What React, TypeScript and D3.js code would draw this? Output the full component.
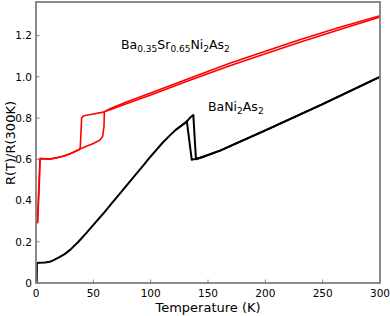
import React from "react";
import { scaleLinear, line } from "d3";

// BaNi2As2 (black), warming and cooling sweeps: [T (K), R(T)/R(300K)]
const baWarm: [number, number][] = [
    [0.6, 0], [0.8, 0.097], [3, 0.098], [8, 0.1], [12, 0.103], [15, 0.11], [20, 0.124],
    [25, 0.14], [30, 0.162], [37, 0.2], [44, 0.243], [51, 0.288], [58.7, 0.337], [66, 0.386],
    [73.3, 0.435], [80, 0.48], [87.8, 0.532], [94, 0.573], [99.4, 0.61], [105, 0.646],
    [110, 0.678], [116.8, 0.716], [122, 0.743], [127, 0.764], [131.4, 0.783], [134, 0.8],
    [137.2, 0.815], [139.5, 0.6], [145, 0.61], [160.5, 0.642], [200, 0.74], [250, 0.868],
    [296, 0.99], [300, 1.0],
];
const baCool: [number, number][] = [
    [300, 1.0], [250, 0.868], [200, 0.74], [160.5, 0.642], [145, 0.612], [139.5, 0.602],
    [135.8, 0.598], [131.6, 0.783], [127, 0.764], [122, 0.743],
];

// Ba0.35Sr0.65Ni2As2 (red)
const srWarm: [number, number][] = [
    [1.2, 0.29], [3.5, 0.605], [8, 0.603], [12, 0.602], [18, 0.607], [24, 0.616], [30, 0.628],
    [35, 0.64], [38.4, 0.65], [44, 0.663], [50, 0.677], [55.8, 0.694], [58.1, 0.71],
    [59.3, 0.76], [59.6, 0.83], [64.5, 0.845], [80, 0.88], [100, 0.922], [130, 0.985],
    [169, 1.066], [200, 1.124], [230, 1.18], [265, 1.24], [300, 1.296],
];
const srCool: [number, number][] = [
    [300, 1.29], [265, 1.23], [230, 1.168], [200, 1.112], [169, 1.054], [130, 0.975],
    [100, 0.912], [80, 0.872], [64.5, 0.84], [58.7, 0.829], [50, 0.82], [44, 0.814],
    [41.3, 0.81], [39.8, 0.8], [38.6, 0.66], [38, 0.648], [30, 0.627], [24, 0.615],
    [12, 0.6], [3.5, 0.603], [3, 0.5], [1.4, 0.29],
];

const xTicks = [0, 50, 100, 150, 200, 250, 300];
const yTicks = [0, 0.2, 0.4, 0.6, 0.8, 1.0, 1.2];
const yTickLabels = ["0", "0.2", "0.4", "0.6", "0.8", "1.0", "1.2"];

const font = "DejaVu Sans, sans-serif";

export default function App() {
    const x = scaleLinear().domain([0, 300]).range([36, 380]);
    const y = scaleLinear().domain([0, 1.363]).range([283, 2]);
    const path = line<[number, number]>()
        .x((d) => x(d[0]))
        .y((d) => y(d[1]));

    const axisColor = "#7f7f7f";

    return (
        <svg
            width={390}
            height={316}
            style={{ position: "absolute", left: 0, top: 0, background: "#fff" }}
            fontFamily={font}
        >
            {/* data */}
            <path d={path(baWarm) || ""} fill="none" stroke="#000" strokeWidth={2} strokeLinejoin="round" />
            <path d={path(baCool) || ""} fill="none" stroke="#000" strokeWidth={2} strokeLinejoin="round" />
            <path d={path(srWarm) || ""} fill="none" stroke="#ff0000" strokeWidth={1.6} strokeLinejoin="round" />
            <path d={path(srCool) || ""} fill="none" stroke="#ff0000" strokeWidth={1.6} strokeLinejoin="round" />

            {/* frame */}
            <rect x={36} y={2} width={344} height={281} fill="none" stroke={axisColor} strokeWidth={1.8} />

            {/* ticks */}
            {xTicks.map((t) => (
                <g key={"x" + t}>
                    <line x1={x(t)} x2={x(t)} y1={283} y2={279.5} stroke={axisColor} strokeWidth={1} />
                    <text x={x(t)} y={296.5} fontSize={10.5} textAnchor="middle" fill="#000">
                        {t}
                    </text>
                </g>
            ))}
            {yTicks.map((t, i) => (
                <g key={"y" + t}>
                    <line x1={36} x2={39.5} y1={y(t)} y2={y(t)} stroke={axisColor} strokeWidth={1} />
                    <text x={32} y={y(t) + 3.8} fontSize={10.5} textAnchor="end" fill="#000">
                        {yTickLabels[i]}
                    </text>
                </g>
            ))}

            {/* axis labels */}
            <text x={208} y={312} fontSize={13} textAnchor="middle" fill="#000">
                Temperature (K)
            </text>
            <text
                transform="translate(15,143) rotate(-90)"
                fontSize={13}
                textAnchor="middle"
                fill="#000"
            >
                R(T)/R(300K)
            </text>

            {/* series labels */}
            <text x={121} y={49} fontSize={12.5} fill="#000">
                Ba<tspan fontSize={9} dy={3}>0.35</tspan>
                <tspan dy={-3}>Sr</tspan>
                <tspan fontSize={9} dy={3}>0.65</tspan>
                <tspan dy={-3}>Ni</tspan>
                <tspan fontSize={9} dy={3}>2</tspan>
                <tspan dy={-3}>As</tspan>
                <tspan fontSize={9} dy={3}>2</tspan>
            </text>
            <text x={208} y={111} fontSize={12.5} fill="#000">
                BaNi<tspan fontSize={9} dy={3}>2</tspan>
                <tspan dy={-3}>As</tspan>
                <tspan fontSize={9} dy={3}>2</tspan>
            </text>
        </svg>
    );
}
